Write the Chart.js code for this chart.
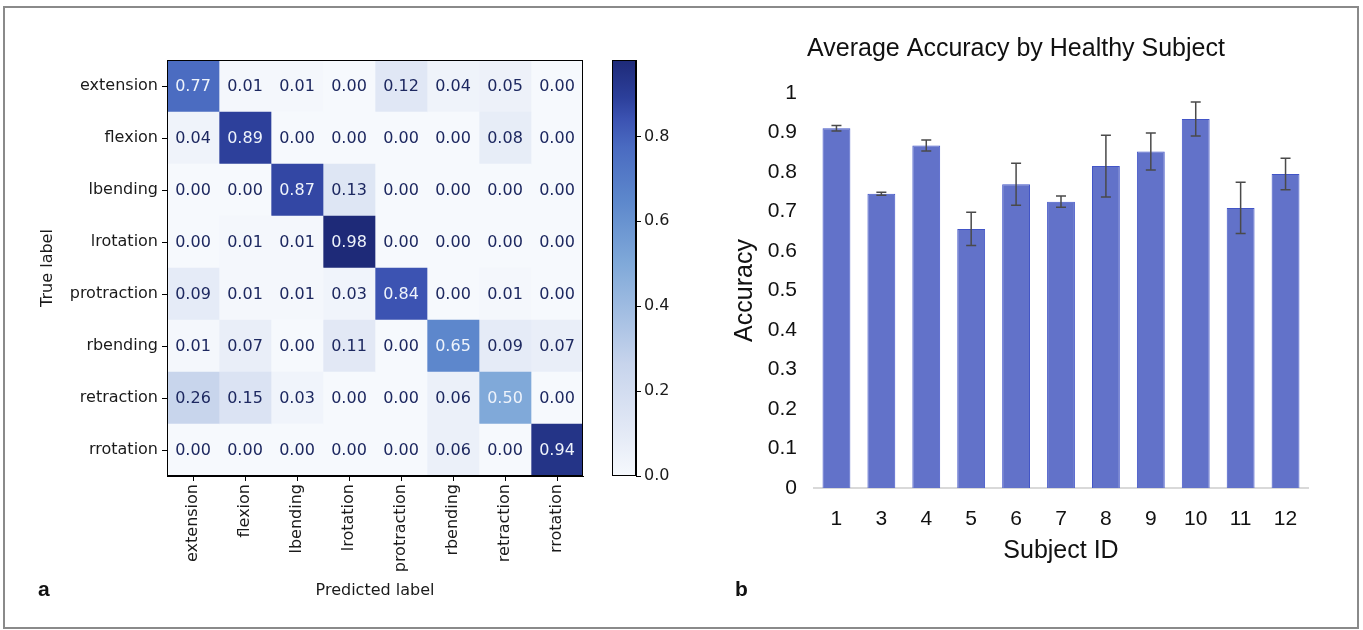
<!DOCTYPE html>
<html>
<head>
<meta charset="utf-8">
<title>Confusion matrix and accuracy by subject</title>
<script src="https://cdn.jsdelivr.net/npm/chart.js@4.4.1/dist/chart.umd.min.js"></script>
<style>
    html, body { margin: 0; padding: 0; background: #fff; }
    #wrap { position: relative; width: 1363px; height: 630px; overflow: hidden; background: #fff; }
    #frame { position: absolute; left: 3px; top: 6px; width: 1352px; height: 619px; border: 2px solid #8a8a8a; }
    canvas { position: absolute; top: 0; }
    #matrixChart { left: 0; }
    #colorbarChart { left: 600px; }
    #accuracyChart { left: 700px; }
    .panel-label { position: absolute; font: bold 21px "Liberation Sans", Arial, sans-serif; color: #111; }
</style>
</head>
<body>
<div id="wrap">
    <div id="frame"></div>
    <canvas id="matrixChart" width="600" height="630"></canvas>
    <canvas id="colorbarChart" width="100" height="630"></canvas>
    <canvas id="accuracyChart" width="632" height="630"></canvas>
    <div class="panel-label" style="left:38px; top:577px;">a</div>
    <div class="panel-label" style="left:735px; top:577px;">b</div>
</div>

<script>
// ---- data: panel a (confusion matrix) ----
const trueLabels = ['extension', 'flexion', 'lbending', 'lrotation', 'protraction', 'rbending', 'retraction', 'rrotation'];
const predLabels = ['extension', 'flexion', 'lbending', 'lrotation', 'protraction', 'rbending', 'retraction', 'rrotation'];
const confusion = [
    [0.77, 0.01, 0.01, 0.00, 0.12, 0.04, 0.05, 0.00],
    [0.04, 0.89, 0.00, 0.00, 0.00, 0.00, 0.08, 0.00],
    [0.00, 0.00, 0.87, 0.13, 0.00, 0.00, 0.00, 0.00],
    [0.00, 0.01, 0.01, 0.98, 0.00, 0.00, 0.00, 0.00],
    [0.09, 0.01, 0.01, 0.03, 0.84, 0.00, 0.01, 0.00],
    [0.01, 0.07, 0.00, 0.11, 0.00, 0.65, 0.09, 0.07],
    [0.26, 0.15, 0.03, 0.00, 0.00, 0.06, 0.50, 0.00],
    [0.00, 0.00, 0.00, 0.00, 0.00, 0.06, 0.00, 0.94]
];
const colorbarMax = 0.98;
const colorbarTicks = [0.0, 0.2, 0.4, 0.6, 0.8];

// ---- data: panel b (accuracy by subject) ----
const subjectIds = ['1', '3', '4', '5', '6', '7', '8', '9', '10', '11', '12'];
const accuracy = [0.911, 0.745, 0.867, 0.656, 0.769, 0.725, 0.815, 0.852, 0.934, 0.709, 0.795];
const accuracyErr = [0.007, 0.004, 0.014, 0.042, 0.053, 0.014, 0.078, 0.047, 0.043, 0.065, 0.040];
const accuracyTicks = [0, 0.1, 0.2, 0.3, 0.4, 0.5, 0.6, 0.7, 0.8, 0.9, 1];

// Blues-like colour ramp (as it looks in the figure)
const cmapStops = [
    [0.00, [246, 249, 253]],
    [0.10, [228, 234, 246]],
    [0.27, [199, 212, 236]],
    [0.51, [128, 169, 217]],
    [0.66, [93, 136, 204]],
    [0.79, [74, 107, 193]],
    [0.86, [59, 82, 177]],
    [0.91, [44, 63, 154]],
    [1.00, [30, 42, 120]]
];

function cmap(t) {
    t = Math.max(0, Math.min(1, t));
    for (let i = 1; i < cmapStops.length; i++) {
        const [t1, c1] = cmapStops[i];
        const [t0, c0] = cmapStops[i - 1];
        if (t <= t1) {
            const f = (t - t0) / (t1 - t0);
            const c = c0.map((v, k) => Math.round(v + (c1[k] - v) * f));
            return `rgb(${c[0]}, ${c[1]}, ${c[2]})`;
        }
    }
    const c = cmapStops[cmapStops.length - 1][1];
    return `rgb(${c[0]}, ${c[1]}, ${c[2]})`;
}

const mplFont = '"DejaVu Sans", sans-serif';
const arialFont = '"Liberation Sans", Arial, sans-serif';
const mplSize = 16;

// Spine around a chart area (matplotlib style frame)
const frameBox = {
    id: 'frameBox',
    afterDraw(chart) {
        const {ctx, chartArea} = chart;
        ctx.save();
        ctx.strokeStyle = '#000';
        ctx.lineWidth = 1;
        ctx.strokeRect(chartArea.left + 0.5, chartArea.top + 0.5,
            chartArea.right - chartArea.left - 1, chartArea.bottom - chartArea.top - 1);
        ctx.restore();
    }
};

// Cell value labels for the heatmap
const cellText = {
    id: 'cellText',
    afterDatasetsDraw(chart) {
        const {ctx} = chart;
        ctx.save();
        ctx.font = mplSize + 'px ' + mplFont;
        ctx.textAlign = 'center';
        ctx.textBaseline = 'middle';
        chart.data.datasets.forEach((ds, j) => {
            chart.getDatasetMeta(j).data.forEach((el, i) => {
                const v = confusion[i][j];
                ctx.fillStyle = v > colorbarMax / 2 ? '#eef3fb' : '#1d2860';
                ctx.fillText(v.toFixed(2), (el.x + el.base) / 2, el.y + 1);
            });
        });
        ctx.restore();
    }
};

// Error bars for the accuracy chart
const errorBars = {
    id: 'errorBars',
    afterDatasetsDraw(chart) {
        const {ctx} = chart;
        const yScale = chart.scales.y;
        ctx.save();
        ctx.strokeStyle = '#4a4a4a';
        ctx.lineWidth = 1.5;
        chart.getDatasetMeta(0).data.forEach((el, i) => {
            const hi = yScale.getPixelForValue(accuracy[i] + accuracyErr[i]);
            const lo = yScale.getPixelForValue(accuracy[i] - accuracyErr[i]);
            ctx.beginPath();
            ctx.moveTo(el.x, hi);
            ctx.lineTo(el.x, lo);
            ctx.moveTo(el.x - 5, hi);
            ctx.lineTo(el.x + 5, hi);
            ctx.moveTo(el.x - 5, lo);
            ctx.lineTo(el.x + 5, lo);
            ctx.stroke();
        });
        ctx.restore();
    }
};

// ---- panel a: heatmap as stacked horizontal unit cells ----
new Chart(document.getElementById('matrixChart'), {
    type: 'bar',
    data: {
        labels: trueLabels,
        datasets: predLabels.map((p, j) => ({
            label: p,
            data: trueLabels.map(() => 1),
            backgroundColor: confusion.map(row => cmap(row[j] / colorbarMax)),
            borderWidth: 0,
            barPercentage: 1,
            categoryPercentage: 1
        }))
    },
    options: {
        indexAxis: 'y',
        responsive: false,
        animation: false,
        layout: { padding: { left: 0, top: 60, right: 17, bottom: 0 } },
        plugins: { legend: { display: false }, tooltip: { enabled: false } },
        scales: {
            x: {
                type: 'linear',
                stacked: true,
                min: 0,
                max: 8,
                afterBuildTicks: scale => { scale.ticks = predLabels.map((p, i) => ({ value: i + 0.5 })); },
                afterFit: scale => { scale.height = 154; },
                ticks: {
                    autoSkip: false,
                    minRotation: 90,
                    maxRotation: 90,
                    padding: 3,
                    color: '#1a1a1a',
                    font: { family: mplFont, size: mplSize },
                    callback: (v, i) => predLabels[i]
                },
                grid: { drawOnChartArea: false, drawTicks: true, tickLength: 5, color: '#000', tickColor: '#000' },
                border: { display: true, color: '#000' },
                title: {
                    display: true,
                    text: 'Predicted label',
                    color: '#1a1a1a',
                    font: { family: mplFont, size: mplSize },
                    padding: { top: 0, bottom: 30 }
                }
            },
            y: {
                stacked: true,
                afterFit: scale => { scale.width = 167; },
                ticks: { padding: 4, color: '#1a1a1a', font: { family: mplFont, size: mplSize } },
                grid: { offset: false, drawOnChartArea: false, drawTicks: true, tickLength: 5, color: '#000', tickColor: '#000' },
                border: { display: true, color: '#000' },
                title: {
                    display: true,
                    text: 'True label',
                    color: '#1a1a1a',
                    font: { family: mplFont, size: mplSize },
                    padding: { top: 38, bottom: 0 }
                }
            }
        }
    },
    plugins: [cellText, frameBox]
});

// ---- panel a: colour bar ----
new Chart(document.getElementById('colorbarChart'), {
    type: 'bar',
    data: {
        labels: ['scale'],
        datasets: [{
            data: [[0, colorbarMax]],
            borderWidth: 0,
            barPercentage: 1,
            categoryPercentage: 1,
            backgroundColor: ctx => {
                const chart = ctx.chart;
                if (!chart.chartArea) return '#ccc';
                const y = chart.scales.y;
                const g = chart.ctx.createLinearGradient(0, y.getPixelForValue(0), 0, y.getPixelForValue(colorbarMax));
                cmapStops.forEach(([t]) => g.addColorStop(t, cmap(t)));
                return g;
            }
        }]
    },
    options: {
        responsive: false,
        animation: false,
        layout: { padding: { left: 12, top: 60, right: 0, bottom: 154 } },
        plugins: { legend: { display: false }, tooltip: { enabled: false } },
        scales: {
            x: { display: false },
            y: {
                position: 'right',
                min: 0,
                max: colorbarMax,
                afterBuildTicks: scale => { scale.ticks = colorbarTicks.map(v => ({ value: v })); },
                afterFit: scale => { scale.width = 64; },
                ticks: { padding: 3, color: '#1a1a1a', font: { family: mplFont, size: mplSize }, callback: v => v.toFixed(1) },
                grid: { drawOnChartArea: false, drawTicks: true, tickLength: 5, color: '#000', tickColor: '#000' },
                border: { display: true, color: '#000' }
            }
        }
    },
    plugins: [frameBox]
});

// ---- panel b: accuracy by subject ----
new Chart(document.getElementById('accuracyChart'), {
    type: 'bar',
    data: {
        labels: subjectIds,
        datasets: [{
            label: 'Accuracy',
            data: accuracy,
            backgroundColor: '#6272c9',
            borderColor: '#4255c7',
            borderWidth: 1,
            barPercentage: 0.62,
            categoryPercentage: 1
        }]
    },
    options: {
        responsive: false,
        animation: false,
        layout: { padding: { left: 24, top: 0, right: 24, bottom: 0 } },
        plugins: {
            legend: { display: false },
            tooltip: { enabled: false },
            title: {
                display: true,
                text: 'Average Accuracy by Healthy Subject',
                color: '#111',
                font: { family: arialFont, size: 25, weight: 'normal' },
                padding: { top: 34, bottom: 29 }
            }
        },
        scales: {
            x: {
                afterFit: scale => { scale.height = 142; },
                ticks: { padding: 19, color: '#111', font: { family: arialFont, size: 21 } },
                grid: { display: false, drawTicks: false },
                border: { display: true, color: '#d9d9d9', width: 2 },
                title: {
                    display: true,
                    text: 'Subject ID',
                    color: '#111',
                    font: { family: arialFont, size: 25 },
                    padding: { top: 0, bottom: 64 }
                }
            },
            y: {
                min: 0,
                max: 1,
                afterBuildTicks: scale => { scale.ticks = accuracyTicks.map(v => ({ value: v })); },
                afterFit: scale => { scale.width = 90; },
                ticks: { padding: 17, color: '#111', font: { family: arialFont, size: 21 }, callback: v => String(v) },
                grid: { display: false, drawTicks: false },
                border: { display: false },
                title: {
                    display: true,
                    text: 'Accuracy',
                    color: '#111',
                    font: { family: arialFont, size: 25 },
                    padding: { top: 6, bottom: 0 }
                }
            }
        }
    },
    plugins: [errorBars]
});
</script>
</body>
</html>
